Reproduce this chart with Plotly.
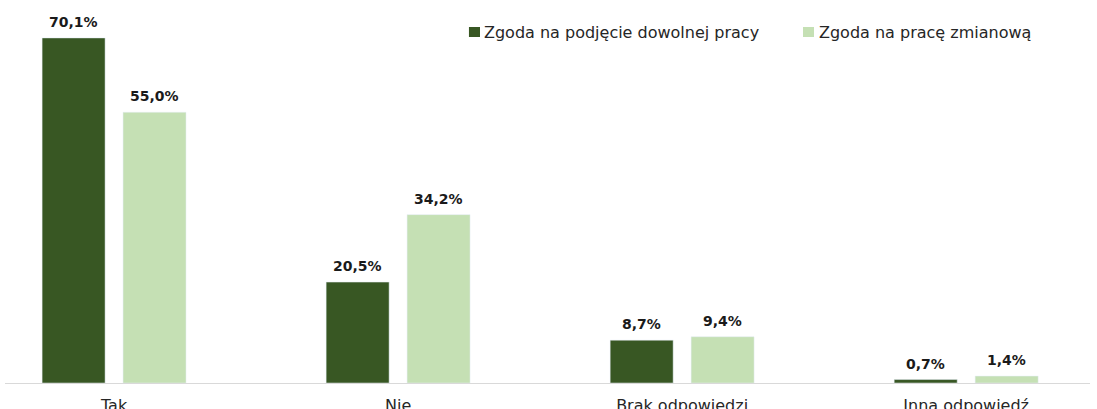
import plotly.graph_objects as go

categories = ["Tak", "Nie", "Brak odpowiedzi", "Inna odpowiedź"]
series_names = ["Zgoda na podjęcie dowolnej pracy", "Zgoda na pracę zmianową"]
dowolna = [70.1, 20.5, 8.7, 0.7]
zmianowa = [55.0, 34.2, 9.4, 1.4]
colors = ["#385723", "#C5E0B4"]

def fmt(v):
    return f"{v:.1f}".replace(".", ",") + "%"

fig = go.Figure()
for name, vals, col in zip(series_names, [dowolna, zmianowa], colors):
    fig.add_trace(go.Bar(x=categories, y=vals, name=name, marker_color=col,
                         showlegend=False))

# value labels above bars
shifts = [-40.5, 40.5]
for vals, xs in zip([dowolna, zmianowa], shifts):
    for c, v in zip(categories, vals):
        fig.add_annotation(x=c, y=v, text=fmt(v), showarrow=False,
                           xshift=xs, yshift=6, yanchor="bottom",
                           font=dict(family="DejaVu Sans", size=14, color="#1a1a1a",
                                     weight="bold"))

# manual legend
leg_marker_x = [(0.4276, 0.4378), (0.7355, 0.7456)]
leg_text_x = [0.4396, 0.7484]
for name, col, (x0, x1), tx in zip(series_names, colors, leg_marker_x, leg_text_x):
    fig.add_shape(type="rect", xref="paper", yref="paper", x0=x0, x1=x1,
                  y0=0.9034, y1=0.9295, fillcolor=col, line=dict(width=0))
    fig.add_annotation(xref="paper", yref="paper", x=tx, y=0.9164, text=name,
                       showarrow=False, xanchor="left", yanchor="middle",
                       font=dict(family="DejaVu Sans", size=16, color="#262626"))

fig.update_layout(
    width=1097, height=409,
    margin=dict(l=5, r=7, t=0, b=26, autoexpand=False),
    plot_bgcolor="white", paper_bgcolor="white",
    barmode="group", bargap=0.43, bargroupgap=0.222,
    showlegend=False,
    xaxis=dict(range=[-0.384, 3.436], showline=True, linecolor="#d9d9d9", linewidth=1,
               ticks="", tickfont=dict(family="DejaVu Sans", size=16, color="#262626"),
               ticklabelstandoff=8, fixedrange=True),
    yaxis=dict(range=[0, 77.8], visible=False, showgrid=False, zeroline=False),
)

fig.write_html("out.html", config={"displayModeBar": False},
               post_script="document.body.style.margin='0';document.body.style.overflow='hidden';")
